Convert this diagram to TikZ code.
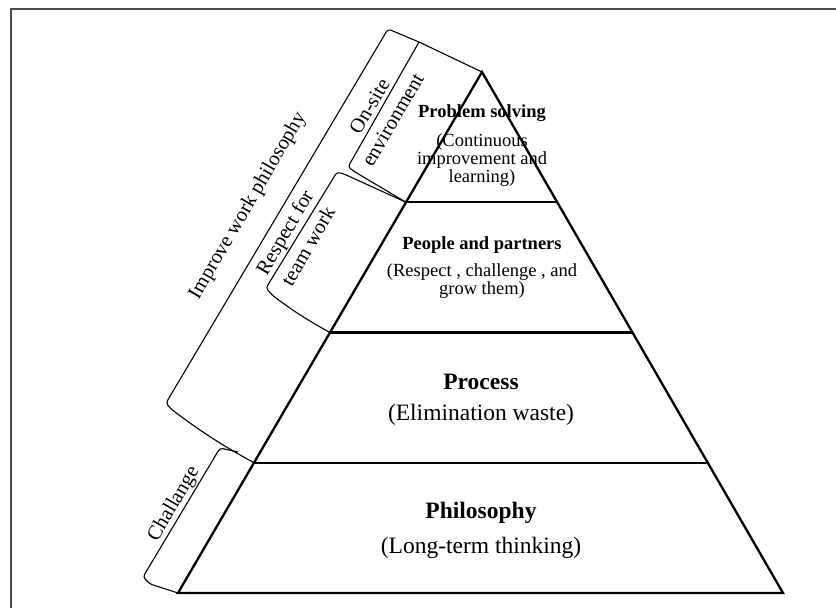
\documentclass[tikz,border=0pt]{standalone}
\usepackage{fontspec}
\setmainfont{Liberation Serif}
\usetikzlibrary{calc}

\tikzset{
  layer/.style={line width=2.3pt, line join=miter},
  brace/.style={line width=1.1pt, rounded corners=3pt},
  tiertitle/.style={font=\fontsize{18.5}{19}\selectfont\bfseries, inner sep=0pt},
  tiertext/.style={font=\fontsize{18.5}{18.3}\selectfont, align=center, inner sep=0pt},
  basetitle/.style={font=\fontsize{23.5}{24}\selectfont\bfseries, inner sep=0pt},
  basetext/.style={font=\fontsize{23.5}{24}\selectfont, inner sep=0pt},
  sidelabel/.style={font=\fontsize{20.5}{27}\selectfont, align=center, inner sep=0pt, rotate=59.7}
}

\begin{document}
\begin{tikzpicture}[x=1pt,y=-1pt]
\useasboundingbox (0,0) rectangle (836,608);
% draws frame
\draw[gray!60!black, line width=1.2pt] (11,608) -- (11,9) -- (836,9);
% corners of the pyramid
\coordinate (A) at (482,72);
\coordinate (BL) at (178,593);
\coordinate (BR) at (783,593);
\coordinate (L1) at ($(A)!0.25!(BL)$);
\coordinate (L2) at ($(A)!0.5!(BL)$);
\coordinate (L3) at ($(A)!0.75!(BL)$);
\coordinate (R1) at ($(A)!0.25!(BR)$);
\coordinate (R2) at ($(A)!0.5!(BR)$);
\coordinate (R3) at ($(A)!0.75!(BR)$);
% draws pyramid
\draw[layer] (A) -- (BL) -- (BR) -- cycle;
\draw[layer] (L1) -- (R1);
\draw[layer] (L2) -- (R2);
\draw[layer] (L3) -- (R3);
% draws brackets
\draw[brace] (A) -- (419,42) -- (388,29) -- (166,403) -- (171,409) to[bend right=4] (L3);
\draw[brace] (419,42) -- (348,167) -- (355,172) -- (L1);
\draw[brace] (L1) -- (344,174) -- (337,172) -- (266,288) -- (272,295) to[bend right=4] (L2);
\draw[brace] (238,452) -- (220,448) -- (143,577) -- (150,584) -- (BL);
% labels layers
\node[tiertitle] (solving) at (482,113) {Problem solving};
\node[tiertext] (solvingsub) at (482,160) {(Continuous\\improvement and\\learning)};
\node[tiertitle] (people) at (482,245) {People and partners};
\node[tiertext] (peoplesub) at (482,281) {(Respect , challenge , and\\grow them)};
\node[basetitle] (process) at (481,382) {Process};
\node[basetext] (processsub) at (481,415) {(Elimination waste)};
\node[basetitle] (philosophy) at (481,513) {Philosophy};
\node[basetext] (philosophysub) at (481,548) {(Long-term thinking)};
% labels brackets
\node[sidelabel] (improve) at (248,206) {Improve work philosophy};
\node[sidelabel] (onsite) at (381,113) {On-site\\environment};
\node[sidelabel] (respect) at (296,239) {Respect for\\team work};
\node[sidelabel] (challange) at (174,504) {Challange};
\end{tikzpicture}
\end{document}
